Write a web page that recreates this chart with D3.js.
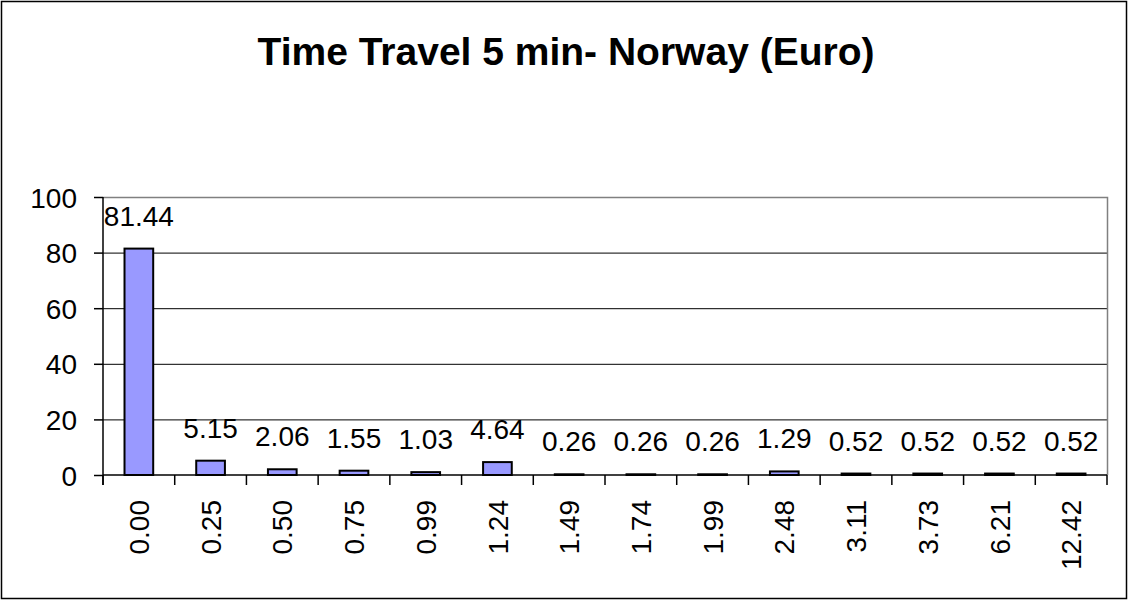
<!DOCTYPE html>
<html>
<head>
<meta charset="utf-8">
<script src="https://cdn.jsdelivr.net/npm/d3@7"></script>
<style>
  body { margin: 0; background: #fff; }
  svg { display: block; font-family: Arial, 'Liberation Sans', sans-serif; }
</style>
</head>
<body>
<div id="canvas"></div>
<script>
const chartTitle = 'Time Travel 5 min- Norway (Euro)';
const categories = ['0.00', '0.25', '0.50', '0.75', '0.99', '1.24', '1.49', '1.74', '1.99', '2.48', '3.11', '3.73', '6.21', '12.42'];
const values = [81.44, 5.15, 2.06, 1.55, 1.03, 4.64, 0.26, 0.26, 0.26, 1.29, 0.52, 0.52, 0.52, 0.52];
const yTicks = [0, 20, 40, 60, 80, 100];

const w = 1129;
const h = 601;
const plot = { left: 103, right: 1107, top: 197, bottom: 475 };

const svg = d3.select('#canvas')
  .append('svg')
  .attr('width', w)
  .attr('height', h);

// outer frame
svg.append('rect')
  .attr('x', 1.5)
  .attr('y', 1.5)
  .attr('width', 1125)
  .attr('height', 597)
  .attr('fill', 'none')
  .attr('stroke', '#000')
  .attr('stroke-width', 1.5);

svg.append('text')
  .attr('x', 566)
  .attr('y', 65)
  .attr('text-anchor', 'middle')
  .style('font-size', '39px')
  .style('font-weight', 'bold')
  .text(chartTitle);

const xScale = d3.scaleBand()
  .domain(categories)
  .range([plot.left, plot.right]);

const yScale = d3.scaleLinear()
  .domain([0, 100])
  .range([plot.bottom, plot.top]);

// gridlines
svg.append('g')
  .selectAll('line')
  .data(yTicks.filter(d => d > 0 && d < 100))
  .enter()
  .append('line')
  .attr('x1', plot.left)
  .attr('x2', plot.right)
  .attr('y1', d => yScale(d) + 0.5)
  .attr('y2', d => yScale(d) + 0.5)
  .attr('stroke', '#000')
  .attr('stroke-width', 1);

// plot border top/right in gray
svg.append('path')
  .attr('d', `M${plot.left},${yScale(100) + 0.5}H${plot.right + 0.5}V${plot.bottom}`)
  .attr('fill', 'none')
  .attr('stroke', '#808080')
  .attr('stroke-width', 1.5);

// bars
svg.append('g')
  .selectAll('rect')
  .data(values)
  .enter()
  .append('rect')
  .attr('x', (d, i) => xScale(categories[i]) + xScale.bandwidth() * 0.3)
  .attr('y', d => yScale(d))
  .attr('width', xScale.bandwidth() * 0.4)
  .attr('height', d => yScale(0) - yScale(d))
  .attr('fill', '#9999FF')
  .attr('stroke', '#000')
  .attr('stroke-width', 2);

// data labels
svg.append('g')
  .selectAll('text')
  .data(values)
  .enter()
  .append('text')
  .attr('x', (d, i) => xScale(categories[i]) + xScale.bandwidth() / 2)
  .attr('y', d => yScale(d) - 23)
  .attr('text-anchor', 'middle')
  .style('font-size', '28px')
  .text(d => d.toFixed(2));

// y axis
const yAxis = d3.axisLeft(yScale)
  .tickValues(yTicks)
  .tickSize(9)
  .tickPadding(17)
  .tickFormat(d3.format('d'));

const yG = svg.append('g')
  .attr('transform', 'translate(' + plot.left + ', 0)')
  .call(yAxis);
yG.select('.domain').attr('stroke', '#000').attr('stroke-width', 1.5)
  .attr('d', `M0,${plot.top}V${plot.bottom + 10}`);
yG.selectAll('.tick line').attr('stroke', '#000').attr('stroke-width', 1.5);
yG.selectAll('.tick text')
  .style('font-size', '28px')
  .style('font-family', 'Arial, Liberation Sans, sans-serif')
  .attr('fill', '#000')
  .attr('dy', '0.36em');

// x axis
const xG = svg.append('g')
  .attr('transform', 'translate(0, ' + plot.bottom + ')');
xG.append('line')
  .attr('x1', plot.left)
  .attr('x2', plot.right)
  .attr('y1', 0)
  .attr('y2', 0)
  .attr('stroke', '#000')
  .attr('stroke-width', 1.5);
xG.selectAll('.xtick')
  .data(categories.concat(['end']))
  .enter()
  .append('line')
  .attr('class', 'xtick')
  .attr('x1', (d, i) => i < categories.length ? xScale(d) : plot.right)
  .attr('x2', (d, i) => i < categories.length ? xScale(d) : plot.right)
  .attr('y1', 0)
  .attr('y2', 10)
  .attr('stroke', '#000')
  .attr('stroke-width', 1.5);
xG.selectAll('.xlabel')
  .data(categories)
  .enter()
  .append('text')
  .attr('class', 'xlabel')
  .attr('transform', d => 'translate(' + (xScale(d) + xScale.bandwidth() / 2) + ', 25) rotate(-90)')
  .attr('text-anchor', 'end')
  .attr('dy', '0.36em')
  .style('font-size', '28px')
  .text(d => d);
</script>
</body>
</html>
